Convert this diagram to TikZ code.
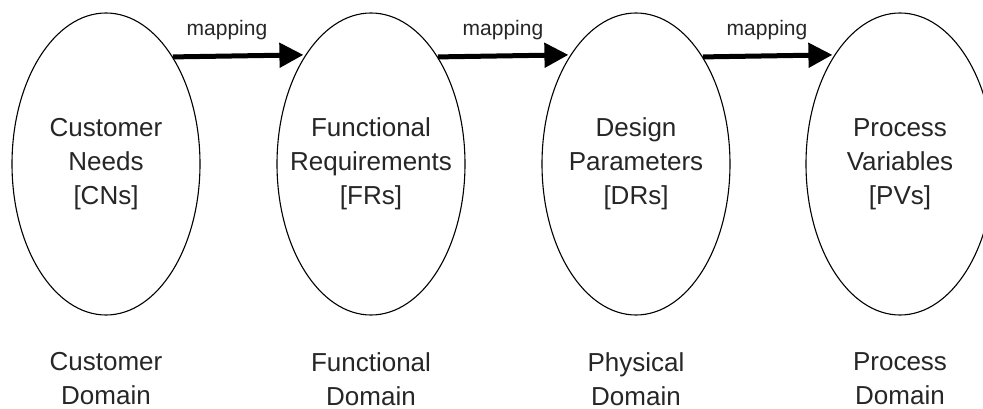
\documentclass[tikz,border=0pt]{standalone}
\usepackage{fontspec}
\setmainfont{Liberation Sans}
\usetikzlibrary{shapes.geometric,arrows.meta}
\definecolor{textgray}{HTML}{262626}
\begin{document}
\begin{tikzpicture}[x=1pt,y=-1pt,
  domainell/.style={ellipse, draw=black, line width=1.1pt, minimum width=188pt,
    minimum height=302pt, inner sep=0pt},
  elltext/.style={inner sep=0pt, align=center,
    font=\fontsize{26}{34}\selectfont, text=textgray},
  maplabel/.style={inner sep=0pt, font=\fontsize{21}{25}\selectfont, text=textgray},
  domlabel/.style={inner sep=0pt, align=center, font=\fontsize{26}{34}\selectfont, text=textgray},
  maparrow/.style={line width=5pt, black, -{Triangle[length=24pt,width=24pt]}, shorten >=2pt}
]
\useasboundingbox (0,0) rectangle (983,409);
\fill[white] (0,0) rectangle (983,409);

\node[domainell, label={[elltext]center:Customer\\Needs\\{[CNs]}}] (cn) at (106,164) {};
\node[domainell, label={[elltext]center:Functional\\Requirements\\{[FRs]}}] (fr) at (371,164) {};
\node[domainell, label={[elltext]center:Design\\Parameters\\{[DRs]}}] (dp) at (636,164) {};
\node[domainell, label={[elltext]center:Process\\Variables\\{[PVs]}}] (pv) at (900,164) {};

\draw[maparrow] (cn.58.3) -- (fr.121.7);
\draw[maparrow] (fr.58.3) -- (dp.121.7);
\draw[maparrow] (dp.58.3) -- (pv.121.7);

\node[maplabel] (m1) at (227,30) {mapping};
\node[maplabel] (m2) at (503,30) {mapping};
\node[maplabel] (m3) at (767,30) {mapping};

\node[domlabel] (d1) at (106,379) {Customer\\Domain};
\node[domlabel] (d2) at (371,379) {Functional\\Domain};
\node[domlabel] (d3) at (636,379) {Physical\\Domain};
\node[domlabel] (d4) at (900,379) {Process\\Domain};
\end{tikzpicture}
\end{document}
